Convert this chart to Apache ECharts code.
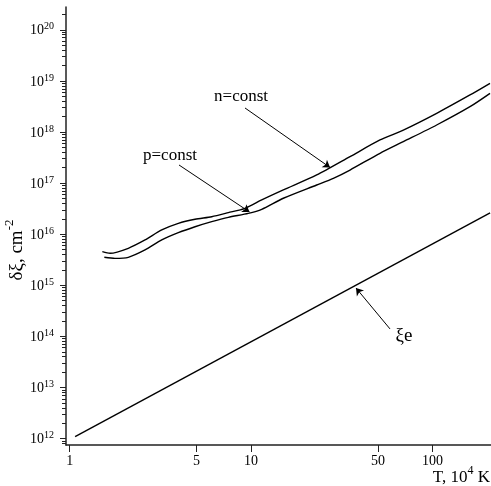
<!DOCTYPE html>
<html><head><meta charset="utf-8">
<script src="https://cdn.jsdelivr.net/npm/echarts@6/dist/echarts.min.js"></script>
<style>html,body{margin:0;padding:0;background:#fff}#c{width:491px;height:486px}</style>
</head><body><div id="c"></div>
<script>
// ---- data ----
const T_n = [1.514,1.670,2.105,2.603,3.217,3.971,4.909,6.067,7.488,9.256,11.44,15.05,22.98,35.07,51.3,68.98,105.3,160.7,207.2];
const V_n = [4.55e15,4.23e15,5.30e15,7.71e15,1.21e16,1.63e16,1.96e16,2.20e16,2.64e16,3.21e16,4.67e16,7.33e16,1.44e17,3.29e17,6.97e17,1.09e18,2.32e18,5.30e18,8.97e18];
const T_p = [1.553,1.778,2.105,2.603,3.217,3.971,4.909,6.067,7.488,9.652,11.44,15.05,22.98,28.38,35.07,51.3,68.98,105.3,160.7,207.2];
const V_p = [3.53e15,3.37e15,3.53e15,4.91e15,7.71e15,1.07e16,1.40e16,1.76e16,2.14e16,2.56e16,3.07e16,5.05e16,9.18e16,1.24e17,1.80e17,3.83e17,6.46e17,1.37e18,3.13e18,5.71e18];
const T_e = [1.072, 207.4];
const V_e = [1.09e12, 2.61e16];
const xTickValues = [1, 5, 10, 50, 100];
const yExponents = [12, 13, 14, 15, 16, 17, 18, 19, 20];
const xRange = [0.955, 209.8];
const yRange = [7.5e11, 2.79e20];

// annotation anchors (data coordinates)
const annotations = [
  { text: 'n=const', at: [8.80, 4.84e18], from: [9.255, 2.95e18], to: [27.22, 2.02e17] },
  { text: 'p=const', at: [3.574, 3.39e17], from: [4.006, 2.26e17], to: [9.80, 2.72e16] },
  { text: 'ξe', at: [69.57, 1.02e14], from: [58.25, 1.40e14], to: [37.84, 8.85e14] }
];

const zip = (a, b) => a.map((v, i) => [v, b[i]]);
const majorY = yExponents.map(e => Math.pow(10, e));
const minorY = [];
for (let e = 11; e <= 20; e++) for (let k = 2; k <= 9; k++) {
  const v = k * Math.pow(10, e);
  if (v >= yRange[0] && v <= yRange[1]) minorY.push(v);
}
const FONT = '"Liberation Serif", "Times New Roman", serif';
const chart = echarts.init(document.getElementById('c'), null, { renderer: 'canvas' });
const lineStyle = { color: '#000', width: 1.4 };
const arrowLines = annotations.map(a => [{ coord: a.from }, { coord: a.to }]);
const supRich = (big, small, lift) => ({
  a: { fontSize: big, fontFamily: FONT, color: '#000', verticalAlign: 'bottom' },
  s: { fontSize: small, fontFamily: FONT, color: '#000', verticalAlign: 'bottom', padding: [0, 0, lift, 0] }
});

chart.setOption({
  animation: false,
  backgroundColor: '#fff',
  textStyle: { fontFamily: FONT, color: '#000' },
  grid: { left: 66, right: 0, top: 7, bottom: 41, containLabel: false, outerBoundsMode: 'none' },
  xAxis: {
    type: 'log', min: xRange[0], max: xRange[1],
    axisLine: { lineStyle: { color: '#222', width: 1.5 } },
    axisTick: { show: true, length: 7, customValues: xTickValues, lineStyle: { color: '#222', width: 1 } },
    minorTick: { show: false },
    splitLine: { show: false },
    axisLabel: { customValues: xTickValues, margin: 9, fontSize: 14, fontFamily: FONT, color: '#000',
      formatter: v => String(Math.round(v)) }
  },
  yAxis: [{
    type: 'log', min: yRange[0], max: yRange[1],
    axisLine: { lineStyle: { color: '#222', width: 1.5 } },
    axisTick: { show: true, length: 6, customValues: majorY, lineStyle: { color: '#222', width: 1 } },
    splitLine: { show: false },
    axisLabel: { customValues: majorY, margin: 12, fontFamily: FONT, color: '#000',
      formatter: v => '{a|10}{s|' + Math.round(Math.log10(v)) + '}',
      rich: supRich(14, 10, 6) }
  }, {
    type: 'log', min: yRange[0], max: yRange[1], position: 'left',
    axisLine: { show: false },
    axisTick: { show: true, length: 4, customValues: minorY, lineStyle: { color: '#222', width: 1 } },
    axisLabel: { show: false },
    splitLine: { show: false }
  }],
  series: [
    { name: 'n=const', type: 'line', data: zip(T_n, V_n), smooth: 0.25, showSymbol: false, lineStyle, silent: true,
      markLine: { silent: true, symbol: ['none', 'arrow'], symbolSize: 7, label: { show: false },
        lineStyle: { color: '#000', width: 1, type: 'solid' }, data: arrowLines } },
    { name: 'p=const', type: 'line', data: zip(T_p, V_p), smooth: 0.25, showSymbol: false, lineStyle, silent: true },
    { name: 'ξe', type: 'line', data: zip(T_e, V_e), showSymbol: false, lineStyle, silent: true }
  ]
});

const g = annotations.map(a => {
  const p = chart.convertToPixel({ gridIndex: 0 }, a.at);
  return { type: 'text', x: p[0], y: p[1], silent: true,
    style: { text: a.text, fontSize: a.text === 'ξe' ? 19 : 17, fontFamily: FONT, fill: '#000', align: 'center', verticalAlign: 'middle' } };
});
// x-axis title, placed at the right end below the axis
g.push({ type: 'text', right: 1, bottom: 0, silent: true,
  style: { text: '{a|T, 10}{s|4}{a| K}', rich: supRich(17, 12, 9), align: 'left', verticalAlign: 'top' } });
// y-axis title, rotated
g.push({ type: 'text', x: 15, y: 250, rotation: Math.PI / 2, silent: true,
  style: { text: '{a|δξ, cm}{s|-2}', rich: supRich(19, 13, 10), align: 'center', verticalAlign: 'middle' } });
chart.setOption({ graphic: g });
</script></body></html>
